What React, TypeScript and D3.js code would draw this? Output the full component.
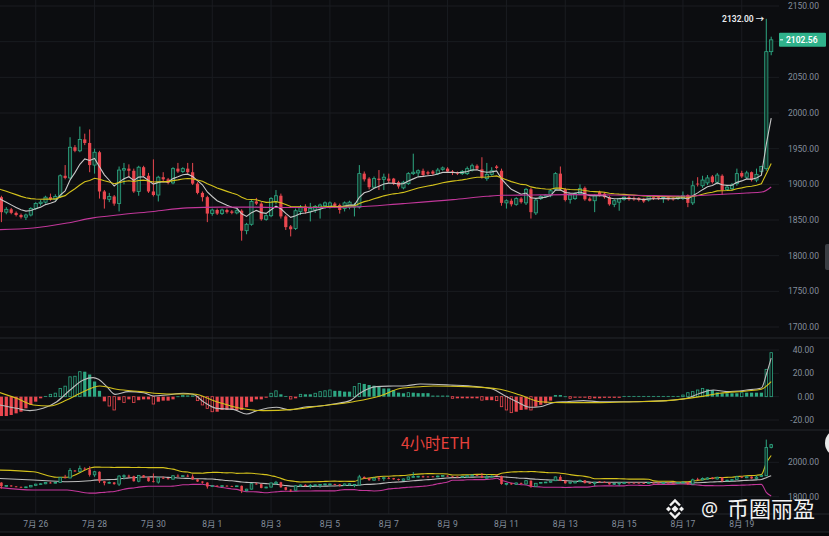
import React, { useEffect, useRef } from 'react';
import * as d3 from 'd3';

// 4h candles, left edge -> 8/20 00:00, [open, high, low, close]
const candles: [number, number, number, number][] = [
  [1886, 1890, 1878, 1882], [1882, 1884, 1847, 1861], [1861, 1868, 1858, 1865], [1865, 1867, 1858, 1860],
  [1860, 1862, 1855, 1857], [1857, 1859, 1852, 1854], [1854, 1859, 1850, 1857], [1857, 1868, 1855, 1866],
  [1866, 1875, 1864, 1873], [1873, 1878, 1870, 1875], [1875, 1884, 1873, 1882], [1882, 1887, 1877, 1879],
  [1879, 1886, 1877, 1883], [1883, 1914, 1881, 1912], [1912, 1927, 1907, 1909], [1909, 1966, 1907, 1952],
  [1952, 1955, 1945, 1947], [1947, 1981, 1945, 1963], [1963, 1971, 1955, 1958], [1958, 1977, 1917, 1927],
  [1927, 1950, 1915, 1945], [1945, 1947, 1880, 1890], [1890, 1892, 1866, 1879], [1879, 1888, 1875, 1883],
  [1883, 1885, 1870, 1873], [1873, 1925, 1862, 1920], [1920, 1930, 1900, 1922], [1922, 1928, 1910, 1919],
  [1919, 1922, 1888, 1890], [1890, 1926, 1884, 1924], [1924, 1926, 1910, 1912], [1912, 1916, 1888, 1890],
  [1890, 1935, 1883, 1885], [1885, 1912, 1876, 1910], [1910, 1917, 1903, 1907], [1907, 1909, 1900, 1902],
  [1902, 1924, 1900, 1922], [1922, 1930, 1916, 1918], [1918, 1924, 1916, 1922], [1922, 1930, 1915, 1917],
  [1917, 1930, 1899, 1901], [1901, 1903, 1886, 1888], [1888, 1890, 1876, 1882], [1882, 1884, 1847, 1859],
  [1859, 1866, 1856, 1864], [1864, 1866, 1857, 1859], [1859, 1866, 1857, 1864], [1864, 1866, 1859, 1861],
  [1862, 1864, 1858, 1860], [1860, 1865, 1858, 1863], [1863, 1865, 1821, 1835], [1835, 1846, 1830, 1844],
  [1844, 1878, 1842, 1876], [1876, 1881, 1871, 1873], [1873, 1875, 1849, 1851], [1851, 1858, 1849, 1856],
  [1856, 1882, 1854, 1880], [1876, 1892, 1872, 1884], [1884, 1887, 1852, 1855], [1855, 1857, 1836, 1840],
  [1841, 1843, 1827, 1837], [1838, 1866, 1836, 1863], [1862, 1871, 1857, 1868], [1869, 1872, 1859, 1862],
  [1862, 1874, 1848, 1866], [1864, 1871, 1860, 1869], [1867, 1873, 1852, 1871], [1870, 1876, 1866, 1874],
  [1869, 1876, 1866, 1874], [1873, 1875, 1867, 1870], [1871, 1873, 1859, 1864], [1866, 1876, 1862, 1874],
  [1868, 1877, 1865, 1875], [1868, 1874, 1855, 1871], [1868, 1927, 1866, 1915], [1915, 1918, 1904, 1907],
  [1908, 1910, 1893, 1896], [1896, 1911, 1894, 1908], [1908, 1920, 1892, 1906], [1907, 1915, 1892, 1910],
  [1908, 1915, 1902, 1905], [1908, 1909, 1899, 1901], [1903, 1905, 1894, 1897], [1895, 1905, 1893, 1903],
  [1901, 1917, 1899, 1915], [1915, 1943, 1913, 1917], [1916, 1921, 1911, 1919], [1919, 1922, 1911, 1913],
  [1917, 1919, 1913, 1915], [1918, 1920, 1913, 1915], [1915, 1923, 1913, 1920], [1921, 1925, 1919, 1923],
  [1922, 1924, 1916, 1918], [1918, 1920, 1913, 1916], [1917, 1918, 1913, 1915], [1915, 1920, 1913, 1918],
  [1915, 1925, 1913, 1922], [1920, 1929, 1918, 1926], [1926, 1928, 1920, 1922], [1921, 1938, 1908, 1910],
  [1908, 1930, 1905, 1914], [1914, 1924, 1912, 1919], [1925, 1927, 1921, 1923], [1919, 1922, 1870, 1874],
  [1874, 1879, 1866, 1877], [1877, 1880, 1869, 1872], [1872, 1882, 1870, 1880], [1880, 1882, 1873, 1875],
  [1874, 1895, 1871, 1893], [1893, 1895, 1852, 1861], [1860, 1880, 1857, 1878], [1880, 1885, 1878, 1883],
  [1883, 1886, 1881, 1885], [1884, 1893, 1882, 1891], [1893, 1917, 1891, 1915], [1915, 1925, 1891, 1893],
  [1893, 1895, 1876, 1878], [1879, 1886, 1873, 1885], [1880, 1889, 1878, 1887], [1887, 1900, 1885, 1894],
  [1895, 1897, 1877, 1879], [1880, 1882, 1876, 1877], [1877, 1886, 1861, 1884], [1889, 1891, 1883, 1885],
  [1887, 1889, 1880, 1882], [1882, 1884, 1870, 1872], [1872, 1879, 1868, 1877], [1875, 1881, 1863, 1880],
  [1879, 1883, 1877, 1882], [1882, 1884, 1877, 1879], [1881, 1883, 1877, 1879], [1881, 1882, 1876, 1878],
  [1880, 1881, 1874, 1876], [1878, 1884, 1876, 1883], [1882, 1883, 1878, 1880], [1882, 1883, 1878, 1880],
  [1881, 1883, 1874, 1882], [1882, 1883, 1877, 1879], [1881, 1882, 1877, 1879], [1880, 1884, 1878, 1882],
  [1880, 1890, 1878, 1884], [1885, 1886, 1868, 1874], [1874, 1905, 1871, 1898], [1901, 1910, 1897, 1900],
  [1898, 1912, 1895, 1906], [1902, 1913, 1899, 1909], [1911, 1913, 1901, 1903], [1903, 1916, 1900, 1913],
  [1912, 1914, 1885, 1892], [1893, 1899, 1891, 1896], [1894, 1902, 1891, 1899], [1901, 1922, 1898, 1915],
  [1916, 1919, 1909, 1911], [1910, 1919, 1908, 1916], [1917, 1918, 1904, 1906], [1906, 1922, 1903, 1914],
  [1918, 1926, 1915, 1925], [1922, 2132, 1919, 2086], [2086, 2107, 2081, 2102.56],
];

const dateLabels = ['7月 26', '7月 28', '7月 30', '8月 1', '8月 3', '8月 5', '8月 7', '8月 9', '8月 11', '8月 13', '8月 15', '8月 17', '8月 19'];
const dateCandle = [8, 20, 32, 44, 56, 68, 80, 92, 104, 116, 128, 140, 152];

const priceTicks = [2150, 2100, 2050, 2000, 1950, 1900, 1850, 1800, 1750, 1700];
const macdTicks = [40, 20, 0, -20];
const bollTicks = [2000, 1800];

// short EMAs and their values at the left edge
const emaPeriods = [7, 25];
const emaSeeds = [1884, 1895];

// long MA: [candle index, value]
const longMa: [number, number][] = [
  [0, 1836.4], [7.5, 1838.7], [14.4, 1845.7], [19.7, 1853], [25.2, 1857.4], [32, 1862], [38.9, 1867],
  [45.6, 1868], [52.3, 1868], [57.8, 1867.5], [62.5, 1867.5], [72.7, 1868.2], [82.9, 1873], [93.1, 1878.5],
  [100, 1883.2], [103.3, 1884.6], [108.8, 1885], [116.4, 1885.6], [129.8, 1884.6], [141.4, 1883.6],
  [146.1, 1885.5], [153, 1887.8], [156.1, 1889.2], [158, 1896.3],
];

const macdHist = [
  -16.6, -16.6, -16.6, -15.7, -14.3, -12.9, -10, -7.1, -4.3, -1.4, 0.6, 2, 3, 7, 9, 17, 17.5, 21.4, 21.4, 19,
  13, 5, -4, -8, -11.4, -3, -5, -2.3, -5, -3, -2.3, -2.3, -6.3, -4.3, -3.4, -3.4, -2.3, 0.3, 1, 1,
  1, -3.4, -7.1, -10, -12.9, -12.9, -11.4, -11.4, -11.4, -11.4, -11.4, -9, -4.3, -2.3, -2.3, -0.9, 2.9, 5, 2, 0.6,
  -2, -1.4, 2, 2, 2, 2.9, 4.3, 5, 5.7, 5, 5, 4.3, 4.3, 8.6, 11.4, 10.9, 10, 9.4, 8.6, 7,
  7, 5.7, 3.4, 2.9, 3.4, 3.4, 3, 3, 3, 0.9, 0.9, 0.9, 0.9, -1.4, -1.4, -1.4, -1.4, -1.4, -1.4, -3,
  -3, -3, -3.4, -8.6, -11.4, -13.7, -12.9, -11.4, -11, -11.4, -8.6, -7, -5.7, -3.4, 1.4, 1.4, 0.3, -1.4, -0.9, -0.9,
  -0.9, -1.4, -1.4, -1.4, -1, -1, -1, -1, 0.6, 0.6, 0.6, 0.6, 0.6, 0.6, 0.6, 0.6, 0.6, 0.6, 0.6, 0.6,
  1.4, 3.4, 4.3, 5.7, 7.1, 6.3, 5.7, 3.7, 2.9, 2.9, 2.9, 2.9, 3.4, 3.4, 3.4, 3.4, 3.4, 23.4, 37.7,
];

// [candle index, value]
const difLine: [number, number][] = [
  [0, -6.5], [4.1, -10], [6.8, -12], [9.5, -10], [12.3, -4.3], [15, 5.7], [17.7, 14.3], [19.7, 16.3], [20.8, 14.9],
  [22.5, 8.6], [24.2, 2], [26.9, 4.3], [30, 3.4], [32, 0.6], [34.7, 1.4], [38.1, 2.9], [40.1, 2], [42.2, -4.3],
  [44.9, -10], [48.3, -10.9], [51, -14.9], [53.1, -12], [57.1, -9.1], [59.9, -11.4], [62.6, -9.1], [66, -8],
  [68.7, -6.3], [72.1, -3.4], [74.1, 2.9], [77.5, 8.6], [80.9, 9.1], [83.6, 9.4], [86.4, 10.9], [92.5, 10],
  [97.9, 8.6], [101.3, 6.3], [103.4, 1.4], [106.1, -4.3], [108.8, -9.1], [110.8, -8.6], [113.6, -5.1], [116.3, -4.3],
  [119.7, -3.4], [123.1, -4.3], [129.9, -4.3], [136.7, -3.4], [140.8, -1.4], [143.5, 2.9], [146.2, 5.7], [148.9, 4.3],
  [153, 5.7], [156, 7.5], [157, 19], [158, 33],
];
const deaLine: [number, number][] = [
  [0, 4.5], [4.1, -1.4], [7.5, -7.1], [10.9, -8], [14.3, -2.9], [17.7, 4.3], [21.1, 9.1], [24.5, 6.3], [29.3, 4.3],
  [34.7, 2.3], [40.1, 2.3], [44.9, -4.3], [49.7, -10], [54.4, -12], [60.5, -10.9], [66, -8], [72.8, -4.3], [78.2, 0.6],
  [82.3, 7], [86.4, 8.5], [89.1, 9.1], [95.9, 8.6], [102.7, 6.3], [106.8, 1.4], [110.8, -4.3], [116.3, -5.1],
  [123.1, -5.1], [129.9, -4.3], [136.7, -3.4], [143.5, 0], [147.5, 2.9], [153, 4.9], [156, 6.3], [157, 9], [158, 12.9],
];

// BOLL bands before a full 20-candle window exists: [index, upper, mid, lower]
const bollHead: [number, number, number, number][] = [
  [0, 1955, 1907, 1855], [7.5, 1945, 1897, 1839], [12.3, 1913, 1890, 1839], [14.4, 1913, 1887, 1839],
];

const UP = '#2ea883';
const DOWN = '#e9474f';
const BG = '#0c0d10';
const GRID = '#1a1c21';
const AXIS = '#848e9c';
const NUM_FONT = "Roboto, 'Noto Sans', 'Noto Sans CJK SC', sans-serif";

const App: React.FC = () => {
  const svgRef = useRef<SVGSVGElement>(null);

  useEffect(() => {
    const svg = d3.select(svgRef.current);
    svg.selectAll('*').remove();

    const n = candles.length;
    const x = d3.scaleLinear().domain([0, n - 1]).range([-3.5, 771.2]);
    const yMain = d3.scaleLinear().domain([1700, 2150]).range([327, 6]);
    const yMacd = d3.scaleLinear().domain([-20, 40]).range([420, 350]);
    const yBoll = d3.scaleLinear().domain([1800, 2000]).range([496.7, 462.3]);
    const bw = 3.2;

    const closes = candles.map(c => c[3]);

    // clip regions for the three panes
    const defs = svg.append('defs');
    const clips: [string, number, number][] = [['clip-main', 0, 338], ['clip-macd', 338, 430], ['clip-boll', 430, 514]];
    clips.forEach(([id, y0, y1]) => {
      defs.append('clipPath').attr('id', id)
        .append('rect').attr('x', 0).attr('y', y0).attr('width', 779).attr('height', y1 - y0);
    });

    // grid
    const grid = svg.append('g');
    dateCandle.forEach(i => {
      grid.append('line').attr('x1', x(i)).attr('x2', x(i)).attr('y1', 0).attr('y2', 514)
        .attr('stroke', GRID).attr('stroke-width', 1);
    });
    priceTicks.forEach(p => {
      grid.append('line').attr('x1', 0).attr('x2', 779).attr('y1', yMain(p)).attr('y2', yMain(p))
        .attr('stroke', GRID);
    });
    macdTicks.forEach(v => {
      grid.append('line').attr('x1', 0).attr('x2', 779).attr('y1', yMacd(v)).attr('y2', yMacd(v))
        .attr('stroke', GRID);
    });
    bollTicks.forEach(v => {
      grid.append('line').attr('x1', 0).attr('x2', 779).attr('y1', yBoll(v)).attr('y2', yBoll(v))
        .attr('stroke', GRID);
    });
    [338, 430, 514].forEach(yy => {
      svg.append('line').attr('x1', 0).attr('x2', 829).attr('y1', yy).attr('y2', yy)
        .attr('stroke', '#25282d');
    });
    svg.append('rect').attr('x', 0).attr('y', 532).attr('width', 829).attr('height', 4).attr('fill', '#060709');
    svg.append('line').attr('x1', 0).attr('x2', 829).attr('y1', 532).attr('y2', 532).attr('stroke', '#25282d');

    const drawCandles = (g: d3.Selection<SVGGElement, unknown, null, undefined>, y: d3.ScaleLinear<number, number>, w: number) => {
      candles.forEach(([o, h, l, c], i) => {
        const up = c >= o;
        const col = up ? UP : DOWN;
        g.append('line').attr('x1', x(i)).attr('x2', x(i)).attr('y1', y(h)).attr('y2', y(l))
          .attr('stroke', col).attr('stroke-width', 1);
        const top = y(Math.max(o, c));
        const hgt = Math.max(0.8, Math.abs(y(o) - y(c)));
        g.append('rect').attr('x', x(i) - w / 2).attr('y', top).attr('width', w).attr('height', hgt)
          .attr('fill', up ? '#12332a' : col)
          .attr('stroke', col).attr('stroke-width', up ? 0.8 : 0);
      });
    };

    // ---- main pane
    const main = svg.append('g').attr('clip-path', 'url(#clip-main)');
    drawCandles(main, yMain, bw);

    const emaColors = ['#c9c9c9', '#d4c21c'];
    emaPeriods.forEach((p, k) => {
      const a = 2 / (p + 1);
      let e = emaSeeds[k];
      const vals = closes.map((c, i) => (i === 0 ? e : (e = e + a * (c - e))));
      const line = d3.line<number>().x((_, i) => x(i)).y(v => yMain(v));
      main.append('path').datum(vals).attr('d', line).attr('fill', 'none')
        .attr('stroke', emaColors[k]).attr('stroke-width', 1.1);
    });
    const maLine = d3.line<[number, number]>().x(d => x(d[0])).y(d => yMain(d[1])).curve(d3.curveMonotoneX);
    main.append('path').datum(longMa).attr('d', maLine).attr('fill', 'none')
      .attr('stroke', '#c2379a').attr('stroke-width', 1.1);

    // highest price marker
    const hiIdx = d3.maxIndex(candles, c => c[1]);
    svg.append('text').attr('x', x(hiIdx) - 2).attr('y', yMain(candles[hiIdx][1]) + 3)
      .attr('text-anchor', 'end').attr('font-family', NUM_FONT).attr('font-size', 8.5)
      .attr('font-weight', 600).attr('fill', '#eaecef')
      .text(`${candles[hiIdx][1].toFixed(2)} →`);

    // price axis
    priceTicks.forEach(p => {
      svg.append('text').attr('x', 788).attr('y', yMain(p)).attr('dy', '0.35em')
        .attr('font-family', NUM_FONT).attr('font-size', 8.5).attr('fill', AXIS)
        .text(p.toFixed(2));
    });

    // last price tag
    const last = closes[n - 1];
    const ly = yMain(last);
    svg.append('rect').attr('x', 779).attr('y', ly - 7).attr('width', 47).attr('height', 14)
      .attr('fill', '#2fb28b').attr('rx', 1);
    svg.append('line').attr('x1', 780).attr('x2', 783).attr('y1', ly).attr('y2', ly)
      .attr('stroke', '#fff').attr('stroke-width', 1);
    svg.append('text').attr('x', 786).attr('y', ly).attr('dy', '0.35em')
      .attr('font-family', NUM_FONT).attr('font-size', 8.5).attr('font-weight', 600)
      .attr('fill', '#fff').text(last.toFixed(2));

    // ---- MACD pane
    const macd = svg.append('g').attr('clip-path', 'url(#clip-macd)');
    macdHist.forEach((v, i) => {
      const prev = i > 0 ? macdHist[i - 1] : v - Math.sign(v);
      const hollow = Math.abs(v) > Math.abs(prev);
      const col = v >= 0 ? UP : DOWN;
      const y0 = yMacd(Math.max(0, v));
      const hgt = Math.max(0.8, Math.abs(yMacd(v) - yMacd(0)));
      macd.append('rect').attr('x', x(i) - bw / 2 + (hollow ? 0.4 : 0)).attr('y', y0)
        .attr('width', hollow ? bw - 0.8 : bw).attr('height', hgt)
        .attr('fill', hollow ? BG : col).attr('stroke', col).attr('stroke-width', hollow ? 0.8 : 0);
    });
    const ptLine = d3.line<[number, number]>().x(d => x(d[0])).y(d => yMacd(d[1])).curve(d3.curveMonotoneX);
    macd.append('path').datum(difLine).attr('d', ptLine).attr('fill', 'none')
      .attr('stroke', '#bdbdbd').attr('stroke-width', 1.1);
    macd.append('path').datum(deaLine).attr('d', ptLine).attr('fill', 'none')
      .attr('stroke', '#d4c21c').attr('stroke-width', 1.1);

    macdTicks.forEach(v => {
      svg.append('text').attr('x', 814).attr('y', yMacd(v)).attr('dy', '0.35em').attr('text-anchor', 'end')
        .attr('font-family', NUM_FONT).attr('font-size', 8.5).attr('fill', AXIS)
        .text(v.toFixed(2));
    });

    // ---- BOLL pane
    const boll = svg.append('g').attr('clip-path', 'url(#clip-boll)');
    const bands: [number, number, number, number][] = [...bollHead];
    closes.forEach((_, i) => {
      if (i < 19) return;
      const w = closes.slice(i - 19, i + 1);
      const m = d3.mean(w) as number;
      const sd = Math.sqrt(d3.mean(w, v => (v - m) * (v - m)) as number);
      bands.push([i, m + 2 * sd, m, m - 2 * sd]);
    });
    const bandColors = ['#d4c21c', '#bdbdbd', '#c2379a'];
    [1, 2, 3].forEach((k, j) => {
      const line = d3.line<[number, number, number, number]>()
        .x(d => x(d[0])).y(d => yBoll(d[k])).curve(d3.curveMonotoneX);
      boll.append('path').datum(bands).attr('d', line).attr('fill', 'none')
        .attr('stroke', bandColors[j]).attr('stroke-width', 1.1);
    });
    drawCandles(boll, yBoll, 2.6);

    bollTicks.forEach(v => {
      svg.append('text').attr('x', 788).attr('y', yBoll(v)).attr('dy', '0.35em')
        .attr('font-family', NUM_FONT).attr('font-size', 8.5).attr('fill', AXIS)
        .text(v.toFixed(2));
    });

    // date axis
    dateCandle.forEach((i, k) => {
      svg.append('text').attr('x', x(i)).attr('y', 527).attr('text-anchor', 'middle')
        .attr('font-family', NUM_FONT).attr('font-size', 8.5).attr('fill', AXIS)
        .text(dateLabels[k]);
    });

    // overlay label
    svg.append('text').attr('x', 401).attr('y', 449)
      .attr('font-family', "'Noto Sans CJK SC', 'Noto Sans', sans-serif").attr('font-size', 15.5)
      .attr('fill', '#e8413c').text('4小时ETH');

    // right edge widgets
    svg.append('rect').attr('x', 825).attr('y', 244).attr('width', 8).attr('height', 26).attr('rx', 2)
      .attr('fill', '#3a3d43');
    svg.append('circle').attr('cx', 839).attr('cy', 443).attr('r', 14).attr('fill', '#e9e9e9');

    // watermark
    const wm = svg.append('g').attr('fill', '#f2f2f2');
    const logo = wm.append('g').attr('transform', 'translate(675,509)');
    logo.append('rect').attr('x', -2.5).attr('y', -2.5).attr('width', 5).attr('height', 5).attr('transform', 'rotate(45)');
    [-6.5, 6.5].forEach(dx => {
      logo.append('rect').attr('x', -1.8).attr('y', -1.8).attr('width', 3.6).attr('height', 3.6)
        .attr('transform', `translate(${dx},0) rotate(45)`);
    });
    logo.append('path').attr('d', 'M-5,-3.5 L0,-8.5 L5,-3.5').attr('fill', 'none').attr('stroke', '#f2f2f2').attr('stroke-width', 2.4);
    logo.append('path').attr('d', 'M-5,3.5 L0,8.5 L5,3.5').attr('fill', 'none').attr('stroke', '#f2f2f2').attr('stroke-width', 2.4);
    wm.append('text').attr('x', 701).attr('y', 516).attr('font-family', "'Noto Sans', sans-serif")
      .attr('font-size', 19).text('@');
    wm.append('text').attr('x', 727).attr('y', 517).attr('font-family', "'Noto Sans CJK SC', sans-serif")
      .attr('font-size', 22).text('币圈丽盈');
  }, []);

  return (
    <svg ref={svgRef} width={829} height={536}
      style={{ position: 'absolute', left: 0, top: 0, background: BG, display: 'block' }} />
  );
};

export default App;
